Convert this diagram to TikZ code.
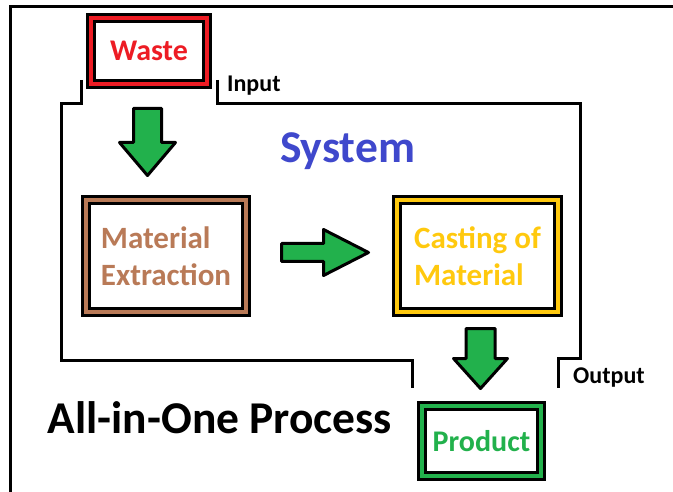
\documentclass[tikz,border=0pt]{standalone}
\usepackage{fontspec}
\setmainfont{Carlito}
\usepackage{tikz}
\usetikzlibrary{calc,positioning}
\definecolor{wastered}{RGB}{237,28,36}
\definecolor{claybrown}{RGB}{185,122,87}
\definecolor{castyellow}{RGB}{255,201,14}
\definecolor{leafgreen}{RGB}{34,177,76}
\definecolor{sysblue}{RGB}{63,72,204}
\tikzset{
  stagebox/.style={draw=black, line width=3pt, double=#1, double distance=4pt,
    fill=white, text=#1, align=left, inner sep=0pt,
    font=\fontsize{31}{37}\selectfont\bfseries},
  arrowbody/.style={draw=black, line width=3pt, fill=leafgreen, line join=round},
  boundary/.style={line width=3pt},
  tag/.style={font=\fontsize{24}{28}\selectfont\bfseries, inner sep=0pt},
  heading/.style={font=\fontsize{45.5}{50}\selectfont\bfseries, inner sep=0pt},
  pics/blockarrow/.style n args={4}{code={
    \draw[arrowbody] (0,-#2) -- ({#1-#4},-#2) -- ({#1-#4},-#3) -- (#1,0)
         -- ({#1-#4},#3) -- ({#1-#4},#2) -- (0,#2) -- cycle;
  }}
}

\begin{document}
\begin{tikzpicture}[x=1pt, y=-1pt]
    \useasboundingbox (0,0) rectangle (673,492);
    % Outer frame
    \draw[line width=3pt] (10,492) -- (10,7) -- (673,7);
    % System boundary
    \draw[boundary] (81,80) |- (61,104) |- (412,360) -- (412,388);
    \draw[boundary] (217,80) |- (580,104) |- (558,358) -- (558,388);
    % Stages
    \node[stagebox=wastered, minimum width=116pt, minimum height=66pt,
          font=\fontsize{30}{36}\selectfont\bfseries] (waste) at (149,51) {Waste};
    \node[stagebox=claybrown, minimum width=160pt, minimum height=112pt]
         (extract) at (166,256) {Material\\Extraction};
    \node[stagebox=castyellow, minimum width=161pt, minimum height=112pt]
         (casting) at (477.5,256) {Casting of\\Material};
    \node[stagebox=leafgreen, minimum width=119pt, minimum height=70pt,
          font=\fontsize{30}{36}\selectfont\bfseries] (product) at (481.5,441) {Product};
    % Flow arrows
    \pic[rotate=-90] at (147.5,108.5) {blockarrow={67}{14}{28}{33}};
    \pic at (281.5,252.5) {blockarrow={87}{9}{23}{45}};
    \pic[rotate=-90] at (480.5,328.5) {blockarrow={60}{14.5}{27}{30}};
    % Labels
    \node[heading, text=sysblue, anchor=base] (system) at (347.5,163) {System};
    \node[heading, anchor=base] (title) at (220,433) {All-in-One Process};
    \node[tag, anchor=base west] (input) at (227,92) {Input};
    \node[tag, anchor=base west] (output) at (573,383) {Output};
\end{tikzpicture}
\end{document}
